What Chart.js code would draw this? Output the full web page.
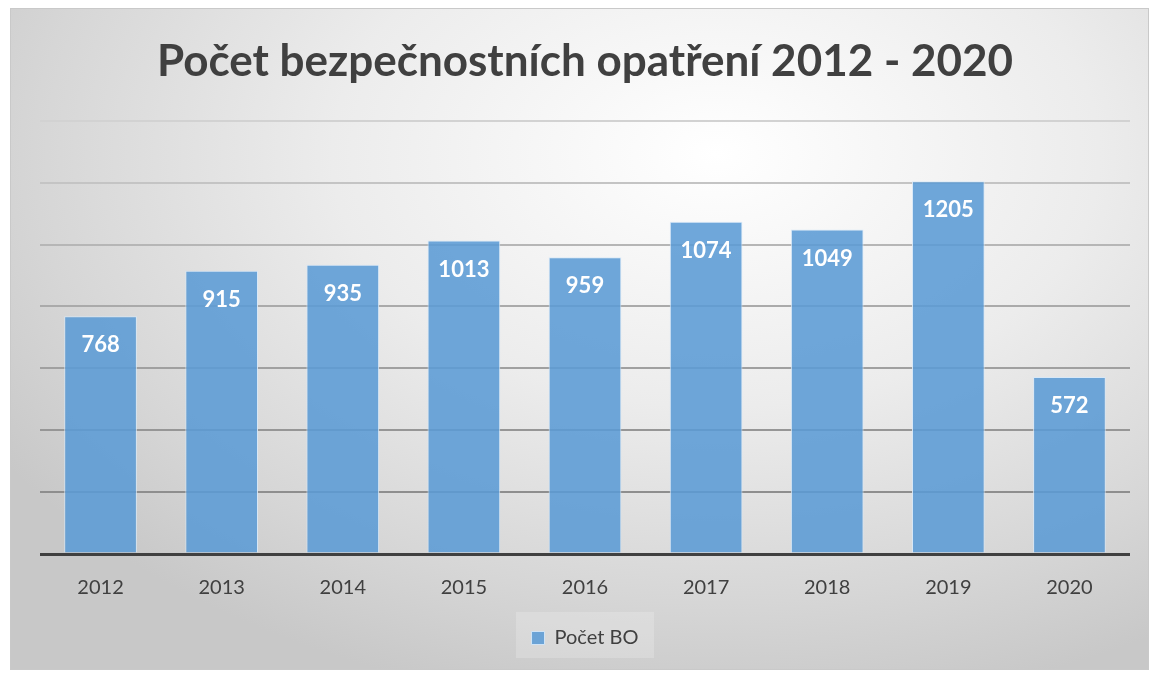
<!DOCTYPE html>
<html>
<head>
<meta charset="utf-8">
<script src="https://cdn.jsdelivr.net/npm/chart.js@4"></script>
<style>
  html, body { margin: 0; padding: 0; background: #fff; }
  #frame {
    position: absolute; left: 10px; top: 8px; width: 1139px; height: 662px;
    box-sizing: border-box; border: 1px solid #c9c9c9;
    background: radial-gradient(ellipse 75% 85% at 62% 22%, #ffffff 0%, #ececec 45%, #d6d6d6 80%, #c8c8c8 100%);
  }
  #wrap { position: absolute; left: 0; top: 0; width: 1149px; height: 673px; }
</style>
</head>
<body>
<div id="frame"></div>
<div id="wrap"><canvas id="boChart"></canvas></div>
<script>
const years = ['2012', '2013', '2014', '2015', '2016', '2017', '2018', '2019', '2020'];
const counts = [768, 915, 935, 1013, 959, 1074, 1049, 1205, 572];
const seriesName = 'Počet BO';
const titleText = 'Počet bezpečnostních opatření 2012 - 2020';

const fontFam = 'Lato, "Open Sans", sans-serif';

// grid lines are lighter toward the top
const gridColors = {0: '#404040', 200: '#8e8e8e', 400: '#969696', 600: '#a0a0a0', 800: '#aaaaaa', 1000: '#b6b6b6', 1200: '#c4c4c4', 1400: '#d2d2d2'};

const barLabels = {
    id: 'barLabels',
    afterDatasetsDraw(chart) {
        const c = chart.ctx;
        const meta = chart.getDatasetMeta(0);
        c.save();
        c.fillStyle = '#ffffff';
        c.font = 'bold 22px ' + fontFam;
        c.textAlign = 'center';
        c.textBaseline = 'middle';
        meta.data.forEach((bar, i) => {
            c.fillText(counts[i], bar.x, bar.y + 29);
        });
        c.restore();
    }
};

const legendBg = {
    id: 'legendBg',
    beforeDraw(chart) {
        const l = chart.legend;
        const c = chart.ctx;
        c.save();
        c.fillStyle = 'rgba(255,255,255,0.2)';
        c.fillRect(l.left + (l.width - 138) / 2, l.top - 2, 138, 46);
        c.restore();
    }
};

const ctx = document.getElementById('boChart').getContext('2d');
const boChart = new Chart(ctx, {
    type: 'bar',
    data: {
        labels: years,
        datasets: [{
            label: seriesName,
            data: counts,
            backgroundColor: 'rgba(91, 155, 213, 0.88)',
            borderColor: 'rgba(214, 232, 248, 0.9)',
            borderWidth: 1,
            categoryPercentage: 0.6,
            barPercentage: 1
        }]
    },
    options: {
        responsive: true,
        maintainAspectRatio: false,
        animation: false,
        layout: { padding: { left: 40, right: 19, top: 0, bottom: 15 } },
        plugins: {
            title: {
                display: true,
                text: titleText,
                color: '#404040',
                font: { family: fontFam, size: 44, weight: 'bold' },
                padding: { top: 35, bottom: 33 }
            },
            legend: {
                position: 'bottom',
                labels: {
                    color: '#404040',
                    font: { family: fontFam, size: 20 },
                    boxWidth: 13,
                    boxHeight: 13,
                    padding: 14
                }
            },
            tooltip: { enabled: false }
        },
        scales: {
            x: {
                grid: { display: false },
                border: { display: false },
                ticks: { color: '#404040', font: { family: fontFam, size: 20 }, padding: 14 }
            },
            y: {
                min: 0,
                max: 1400,
                ticks: { display: false, stepSize: 200 },
                border: { display: false },
                grid: {
                    drawTicks: false,
                    color: c => gridColors[c.tick.value] || '#aaaaaa',
                    lineWidth: c => c.tick.value === 0 ? 3 : 2
                }
            }
        }
    },
    plugins: [legendBg, barLabels]
});
</script>
</body>
</html>
